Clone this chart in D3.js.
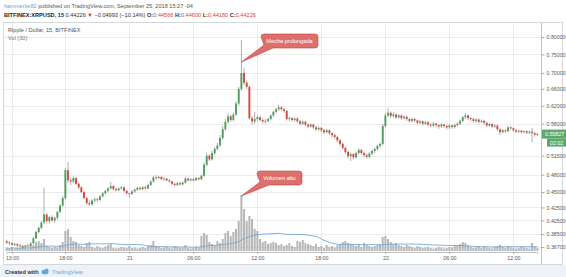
<!DOCTYPE html>
<html><head><meta charset="utf-8">
<script src="https://cdn.jsdelivr.net/npm/d3@7"></script>
<style>
html,body{margin:0;padding:0;background:#fff;}
svg{display:block;font-family:"Liberation Sans",Arial,sans-serif;}
</style></head>
<body><svg id="c" width="566" height="277"></svg>
<script>
// ---- data (15-minute candles, BITFINEX XRP/USD, starting 20 Sep 2018 12:30) ----
const startTime = [2018, 8, 20, 12, 30];
const candleMinutes = 15;
const openP = [
.375,.373,.372,.370,.371,.369,.368,.367,.369,.368,
.372,.379,.388,.394,.402,.414,.404,.410,.405,.409,
.418,.428,.440,.488,.470,.468,.474,.464,.458,.450,
.440,.432,.430,.436,.438,.437,.443,.448,.452,.456,
.460,.455,.453,.456,.458,.452,.448,.447,.451,.454,
.457,.455,.458,.456,.462,.468,.475,.474,.476,.472,
.473,.470,.468,.464,.462,.465,.463,.466,.473,.470,
.472,.470,.474,.472,.478,.498,.515,.508,.520,.528,
.535,.550,.568,.584,.596,.588,.600,.625,.660,.700,
.675,.665,.592,.585,.590,.594,.588,.585,.586,.590,
.598,.606,.612,.616,.612,.608,.590,.592,.588,.591,
.585,.580,.584,.578,.574,.578,.572,.568,.571,.566,
.562,.566,.560,.556,.552,.545,.538,.530,.522,.514,
.518,.512,.520,.526,.520,.516,.513,.519,.524,.528,
.534,.538,.575,.598,.604,.597,.600,.594,.598,.592,
.595,.590,.586,.590,.587,.582,.585,.580,.583,.578,
.576,.580,.577,.574,.578,.575,.572,.576,.573,.577,
.580,.586,.594,.598,.592,.590,.586,.589,.584,.586,
.582,.576,.579,.574,.576,.568,.562,.566,.564,.572,
.570,.566,.563,.565,.562,.564,.561,.563,.560,.557];
const highP = [
.377,.375,.374,.373,.372,.371,.370,.370,.371,.374,
.381,.390,.396,.404,.457,.416,.412,.413,.411,.420,
.430,.444,.492,.503,.474,.477,.476,.466,.460,.452,
.442,.436,.438,.440,.441,.445,.450,.454,.458,.467,
.462,.458,.458,.460,.459,.454,.449,.453,.456,.459,
.459,.460,.461,.464,.470,.478,.479,.478,.477,.475,
.474,.472,.469,.466,.467,.467,.468,.476,.475,.474,
.474,.476,.476,.480,.502,.520,.518,.524,.532,.540,
.556,.575,.590,.602,.600,.604,.630,.665,.791,.713,
.680,.668,.596,.606,.598,.598,.592,.590,.593,.600,
.609,.615,.622,.619,.615,.610,.596,.595,.594,.594,
.588,.587,.586,.580,.581,.580,.575,.574,.573,.569,
.569,.568,.562,.559,.555,.548,.541,.533,.525,.521,
.520,.523,.529,.528,.523,.519,.522,.527,.531,.537,
.541,.580,.604,.615,.607,.605,.603,.601,.600,.598,
.598,.592,.593,.593,.589,.588,.587,.586,.585,.581,
.583,.582,.579,.581,.580,.578,.579,.578,.580,.583,
.589,.597,.603,.600,.595,.593,.592,.591,.589,.588,
.584,.582,.581,.579,.578,.570,.569,.568,.575,.575,
.572,.568,.567,.567,.566,.566,.565,.571,.562,.561];
const lowP = [
.371,.370,.369,.368,.367,.366,.366,.366,.366,.367,
.371,.378,.386,.392,.400,.402,.400,.403,.401,.406,
.416,.426,.438,.466,.462,.465,.462,.455,.448,.438,
.429,.427,.428,.433,.434,.435,.441,.446,.450,.454,
.453,.451,.451,.454,.450,.446,.441,.445,.449,.452,
.453,.453,.454,.455,.460,.466,.471,.472,.470,.469,
.468,.466,.462,.460,.460,.461,.461,.464,.468,.468,
.468,.469,.470,.470,.476,.495,.505,.506,.516,.525,
.532,.546,.565,.580,.584,.585,.597,.620,.655,.670,
.660,.588,.578,.580,.585,.584,.580,.580,.582,.587,
.595,.603,.608,.609,.604,.587,.586,.585,.584,.582,
.576,.577,.574,.570,.571,.569,.565,.564,.562,.558,
.559,.556,.551,.548,.541,.534,.526,.518,.509,.505,
.508,.509,.517,.517,.512,.509,.510,.516,.520,.524,
.530,.535,.572,.594,.592,.593,.590,.590,.588,.589,
.586,.582,.583,.583,.578,.579,.576,.577,.574,.572,
.573,.572,.569,.571,.571,.568,.569,.569,.570,.574,
.577,.583,.590,.588,.586,.582,.582,.580,.581,.578,
.573,.573,.570,.571,.565,.556,.559,.560,.562,.567,
.563,.560,.561,.559,.560,.558,.558,.541,.553,.554];
const closeP = [
.373,.372,.370,.371,.369,.368,.367,.369,.368,.372,
.379,.388,.394,.402,.414,.404,.410,.405,.409,.418,
.428,.440,.488,.470,.468,.474,.464,.458,.450,.440,
.432,.430,.436,.438,.437,.443,.448,.452,.456,.460,
.455,.453,.456,.458,.452,.448,.447,.451,.454,.457,
.455,.458,.456,.462,.468,.475,.474,.476,.472,.473,
.470,.468,.464,.462,.465,.463,.466,.473,.470,.472,
.470,.474,.472,.478,.498,.515,.508,.520,.528,.535,
.550,.568,.584,.596,.588,.600,.625,.660,.700,.675,
.665,.592,.585,.590,.594,.588,.585,.586,.590,.598,
.606,.612,.616,.612,.608,.590,.592,.588,.591,.585,
.580,.584,.578,.574,.578,.572,.568,.571,.566,.562,
.566,.560,.556,.552,.545,.538,.530,.522,.514,.518,
.512,.520,.526,.520,.516,.513,.519,.524,.528,.534,
.538,.575,.598,.604,.597,.600,.594,.598,.592,.595,
.590,.586,.590,.587,.582,.585,.580,.583,.578,.576,
.580,.577,.574,.578,.575,.572,.576,.573,.577,.580,
.586,.594,.598,.592,.590,.586,.589,.584,.586,.582,
.576,.579,.574,.576,.568,.562,.566,.564,.572,.570,
.566,.563,.565,.562,.564,.561,.563,.560,.557,.558];
const volume = [
300,200,400,200,300,200,500,300,200,400,
600,900,1000,800,1200,500,400,300,400,350,
600,900,2000,2200,1400,1000,900,600,500,400,
800,900,400,300,500,350,300,450,600,700,
300,250,300,400,350,300,500,300,350,250,
300,400,300,500,600,1000,500,400,300,350,
400,300,250,500,400,300,350,600,300,250,
300,400,350,1500,1800,1600,900,700,600,1000,
800,1200,1800,2000,1500,1900,2200,3000,5600,4200,
3000,3500,3200,2200,2000,1200,900,1000,700,800,
900,800,600,700,500,600,800,500,400,1000,
900,1100,800,700,600,500,700,400,500,300,
600,400,500,350,600,700,900,1000,800,700,
600,500,700,400,800,600,500,400,500,600,
700,1400,1500,1200,900,700,800,600,500,400,
600,500,400,300,500,400,300,350,400,300,
250,300,400,350,250,300,400,350,500,600,
700,900,800,600,400,300,350,500,300,400,
350,300,250,400,500,600,400,300,500,350,
300,250,300,400,350,300,250,800,400,300];
const priceTicks = [0.80,0.75,0.70,0.66,0.62,0.58,0.515,0.48,0.45,0.425,0.405,0.385,0.367];
const timeTicks = [[2018,8,20,13,0],[2018,8,20,18,0],[2018,8,21,0,0],[2018,8,21,6,0],[2018,8,21,12,0],[2018,8,21,18,0],[2018,8,22,0,0],[2018,8,22,6,0],[2018,8,22,12,0]];
const timeTickLabels = ["13:00","18:00","21","06:00","12:00","18:00","22","06:00","12:00"];
const lastPriceLabel = "0.55827";
const countdownLabel = "02:02";
const maPeriod = 30;

// ---- build ----
const n = Math.min(openP.length, highP.length, lowP.length, closeP.length, volume.length);
const t0 = new Date(...startTime);
const candles = d3.range(n).map(i => ({
  t: new Date(t0.getTime() + i*candleMinutes*60000),
  o: openP[i], h: highP[i], l: lowP[i], c: closeP[i], v: volume[i]
}));
candles.forEach((d,i) => {
  const w = candles.slice(Math.max(0,i-maPeriod+1), i+1);
  d.ma = d3.mean(w, e => e.v);
});

const svg = d3.select("#c");
const W = 566, H = 277;
const plot = {l: 4, r: 541.5, t: 23, b: 252};

svg.append("rect").attr("width",W).attr("height",H).attr("fill","#fff");
// footer band
svg.append("rect").attr("x",0).attr("y",265).attr("width",W).attr("height",12).attr("fill","#eef2f7");
// frame
svg.append("rect").attr("x",3.5).attr("y",22.5).attr("width",559).attr("height",242)
  .attr("fill","#fff").attr("stroke","#d4d7db").attr("stroke-width",1);

const x = d3.scaleTime()
  .domain([candles[0].t, candles[n-1].t])
  .range([6.7, 537.4]);
const y = d3.scaleLog().domain([0.367, 0.80]).range([247, 37]);
const vy = d3.scaleLinear().domain([0, 5700]).range([251, 194]);

// grid
const g = svg.append("g");
g.selectAll(".hg").data(priceTicks).enter().append("line")
  .attr("x1", plot.l).attr("x2", plot.r)
  .attr("y1", d => Math.round(y(d))+0.5).attr("y2", d => Math.round(y(d))+0.5)
  .attr("stroke","#ececec").attr("stroke-width",1);
const tTicks = timeTicks.map(a => new Date(...a));
g.selectAll(".vg").data(tTicks).enter().append("line")
  .attr("x1", d => Math.round(x(d))+0.5).attr("x2", d => Math.round(x(d))+0.5)
  .attr("y1", plot.t).attr("y2", plot.b)
  .attr("stroke","#ececec").attr("stroke-width",1);

// volume bars
svg.append("g").selectAll("rect").data(candles).enter().append("rect")
  .attr("x", d => x(d.t) - 1)
  .attr("width", 2)
  .attr("y", d => vy(d.v))
  .attr("height", d => vy(0) - vy(d.v))
  .attr("fill","#a9a9a9").attr("opacity",0.85);

// volume MA
svg.append("path").datum(candles)
  .attr("d", d3.line().x(d => x(d.t)).y(d => vy(d.ma)))
  .attr("fill","none").attr("stroke","#6fa8dc").attr("stroke-width",0.9);

// candles
const cg = svg.append("g");
cg.selectAll("line").data(candles).enter().append("line")
  .attr("x1", d => x(d.t)).attr("x2", d => x(d.t))
  .attr("y1", d => y(d.h)).attr("y2", d => y(d.l))
  .attr("stroke","#8a8a8a").attr("stroke-width",0.7);
cg.selectAll("rect").data(candles).enter().append("rect")
  .attr("x", d => x(d.t) - 0.95)
  .attr("width", 1.9)
  .attr("y", d => y(Math.max(d.o,d.c)))
  .attr("height", d => Math.max(0.8, Math.abs(y(d.o) - y(d.c))))
  .attr("fill", d => d.c >= d.o ? "#4e9f5d" : "#d9493b");

// price axis
svg.append("line").attr("x1",plot.r).attr("x2",plot.r).attr("y1",23).attr("y2",264)
  .attr("stroke","#bfc3c7").attr("stroke-width",1);
const ya = svg.append("g").attr("transform",`translate(${plot.r},0)`)
  .call(d3.axisRight(y).tickValues(priceTicks).tickFormat(d3.format(".5f")).tickSize(3).tickPadding(2));
ya.select(".domain").remove();
ya.selectAll("line").attr("stroke","#aaa");
ya.selectAll("text").attr("font-size",5.3).attr("fill","#5a5a5a").attr("font-family","Liberation Sans, Arial, sans-serif");

// time axis
const xa = svg.append("g").attr("transform",`translate(0,${plot.b})`)
  .call(d3.axisBottom(x).tickValues(tTicks).tickFormat((d,i) => timeTickLabels[i]).tickSize(2).tickPadding(2));
xa.select(".domain").attr("stroke","#bfc3c7");
xa.selectAll("line").attr("stroke","#aaa");
xa.selectAll("text").attr("font-size",5.3).attr("fill","#5a5a5a").attr("font-family","Liberation Sans, Arial, sans-serif");

// last price label
const last = candles[n-1];
const ly = y(last.c);
svg.append("rect").attr("x",542).attr("y",ly-4.5).attr("width",24).attr("height",9).attr("fill","#5aa96b");
svg.append("text").attr("x",545).attr("y",ly+2).attr("font-size",5.3).attr("fill","#fff").text(lastPriceLabel);
svg.append("rect").attr("x",547).attr("y",ly+4.5).attr("width",19).attr("height",8).attr("fill","#5aa96b");
svg.append("text").attr("x",550).attr("y",ly+10.5).attr("font-size",5.3).attr("fill","#fff").text(countdownLabel);

// legend
svg.append("text").attr("x",8).attr("y",32).attr("font-size",5.6).attr("fill","#555").text("Ripple / Dollar, 15, BITFINEX");
svg.append("text").attr("x",8).attr("y",40).attr("font-size",5.6).attr("fill","#777").text("Vol (30)");

// header
const h1 = svg.append("text").attr("x",4).attr("y",7.5).attr("font-size",5.6).attr("fill","#555");
h1.append("tspan").attr("fill","#5ea8d8").text("hammerite82");
h1.append("tspan").text(" published on TradingView.com, September 25, 2018 15:27 -04");
const h2 = svg.append("text").attr("x",4).attr("y",17).attr("font-size",5.6).attr("fill","#333");
h2.append("tspan").attr("font-weight","bold").attr("fill","#222").text("BITFINEX:XRPUSD, 15");
h2.append("tspan").text(" 0.44226 ");
h2.append("tspan").attr("fill","#d62d20").text("▼");
h2.append("tspan").text(" −0.04993 (−10.14%) ");
[["O:","0.44566"],["H:","0.44600"],["L:","0.44180"],["C:","0.44226"]].forEach(p => {
  h2.append("tspan").attr("font-weight","bold").attr("fill","#333").text(p[0]);
  h2.append("tspan").attr("fill","#e0403a").text(p[1] + " ");
});

// callouts
function callout(tipX, tipY, bx, by, bw, bh, label) {
  const r = 3;
  const p = d3.path();
  p.moveTo(bx + r, by);
  p.lineTo(bx + bw - r, by); p.quadraticCurveTo(bx+bw, by, bx+bw, by+r);
  p.lineTo(bx + bw, by + bh - r); p.quadraticCurveTo(bx+bw, by+bh, bx+bw-r, by+bh);
  p.lineTo(bx + 12, by + bh);
  p.lineTo(tipX, tipY);
  p.lineTo(bx + 3, by + bh - 3);
  p.lineTo(bx, by + r); p.quadraticCurveTo(bx, by, bx + r, by);
  p.closePath();
  svg.append("path").attr("d", p.toString()).attr("fill","#d9605c").attr("fill-opacity",0.9)
    .attr("stroke","#c2423e").attr("stroke-width",0.6);
  svg.append("text").attr("x", bx + bw/2).attr("y", by + bh/2 + 2).attr("text-anchor","middle")
    .attr("font-size",5.6).attr("fill","#fff").text(label);
}
const peak = candles[88];
callout(x(peak.t), 62, 261, 34, 57, 14, "Mecha prolongada");
callout(x(peak.t), vy(peak.v)+1, 257, 171, 45, 14, "Volumen alto");

// footer
svg.append("text").attr("x",5).attr("y",273.5).attr("font-size",5.6).attr("font-weight","bold").attr("fill","#333").text("Created with");
const lg = svg.append("g").attr("transform","translate(42,268)");
lg.append("ellipse").attr("cx",3).attr("cy",4).attr("rx",3.5).attr("ry",2.3).attr("fill","#5ea8d8");
lg.append("circle").attr("cx",4.5).attr("cy",2.6).attr("r",2).attr("fill","#5ea8d8");
svg.append("text").attr("x",52).attr("y",273.5).attr("font-size",5.6).attr("fill","#5ea8d8").text("TradingView");
</script></body></html>
